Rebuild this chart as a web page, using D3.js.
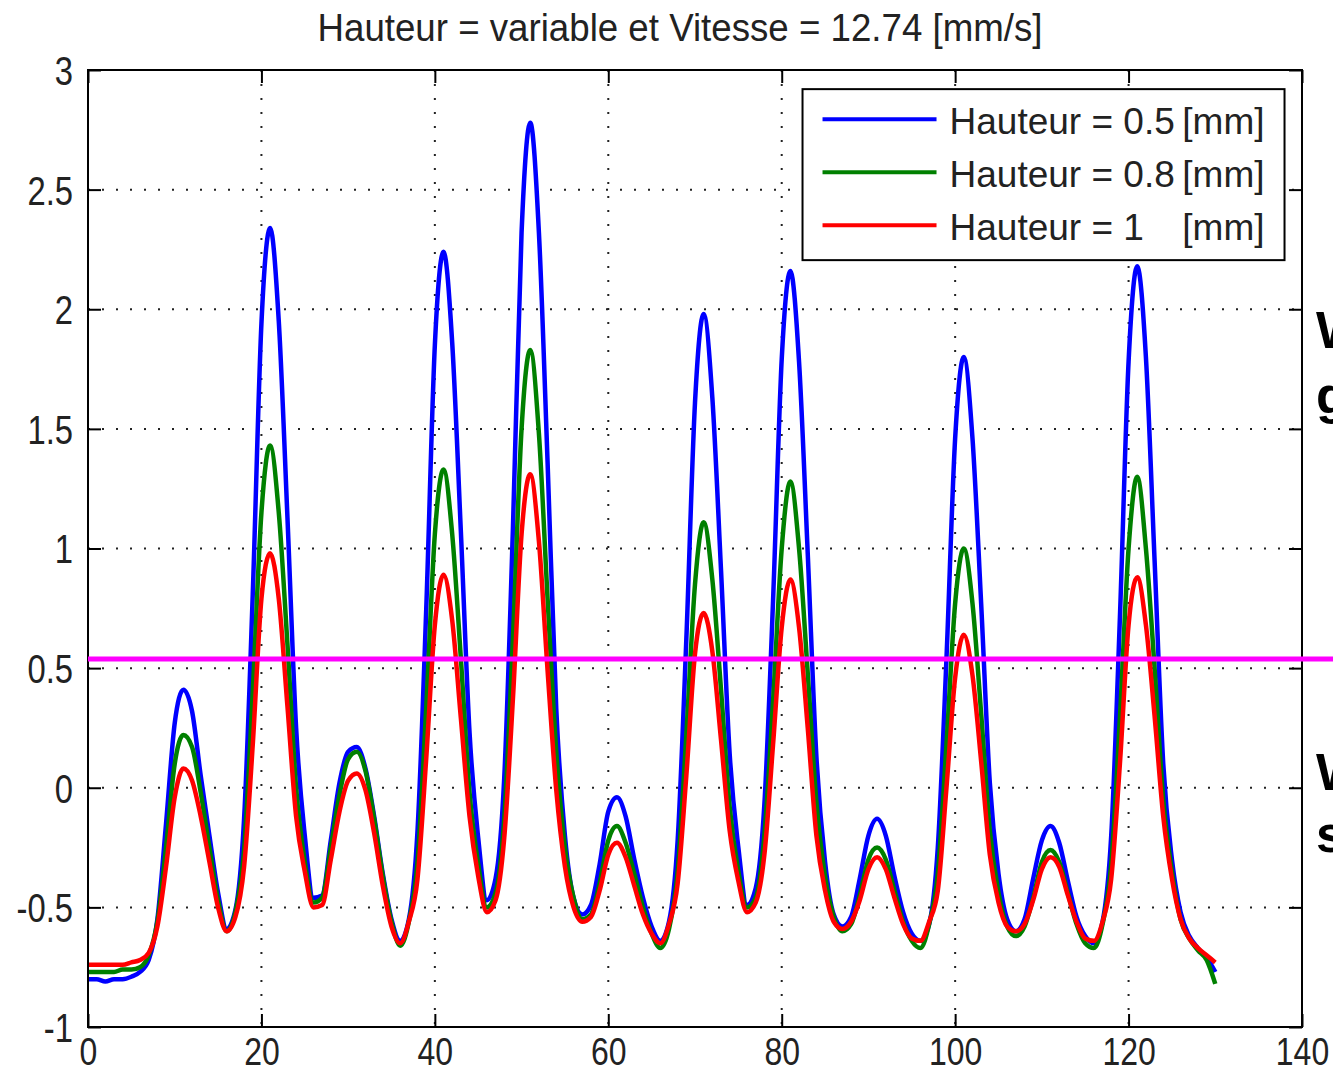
<!DOCTYPE html>
<html>
<head>
<meta charset="utf-8">
<script src="https://cdn.jsdelivr.net/npm/d3@7"></script>
<style>
  body { margin: 0; background: #fff; }
  svg { display: block; font-family: "Liberation Sans", Arial, sans-serif; }
</style>
</head>
<body>
<div id="chart"></div>
<script>
// chart.js - force sensor signal, three heights

const title = 'Hauteur = variable et Vitesse = 12.74 [mm/s]';
const seriesNames = ['Hauteur = 0.5 [mm]', 'Hauteur = 0.8 [mm]', 'Hauteur = 1 [mm]'];
const seriesColors = ['#0000ff', '#008000', '#ff0000'];
const xTicks = [0, 20, 40, 60, 80, 100, 120, 140];
const yTicks = [-1, -0.5, 0, 0.5, 1, 1.5, 2, 2.5, 3];
const threshold = 0.538;
const sideNotes = [['W', 'g'], ['W', 's']];

// sample positions (one per unit along x)
const time = d3.range(0, 131);

const h05 = [
    -0.80, -0.80, -0.81, -0.80, -0.80, -0.79, -0.77, -0.72, -0.55, -0.15,
    0.27, 0.41, 0.32, 0.05, -0.20, -0.44, -0.59, -0.51, -0.13, 0.81,
    1.94, 2.34, 1.95, 1.13, 0.25, -0.20, -0.46, -0.45, -0.22, 0.02,
    0.15, 0.17, 0.08, -0.12, -0.36, -0.55, -0.64, -0.55, -0.18, 0.74,
    1.85, 2.24, 1.86, 1.07, 0.23, -0.21, -0.47, -0.38, 0.04, 1.08,
    2.32, 2.78, 2.32, 1.36, 0.33, -0.20, -0.46, -0.53, -0.49, -0.32,
    -0.10, -0.04, -0.12, -0.30, -0.46, -0.58, -0.64, -0.56, -0.22, 0.62,
    1.61, 1.98, 1.63, 0.91, 0.14, -0.25, -0.49, -0.42, -0.07, 0.78,
    1.79, 2.16, 1.78, 0.98, 0.13, -0.31, -0.53, -0.58, -0.54, -0.38,
    -0.20, -0.13, -0.20, -0.37, -0.52, -0.61, -0.64, -0.57, -0.25, 0.54,
    1.46, 1.80, 1.46, 0.77, 0.02, -0.36, -0.55, -0.60, -0.55, -0.38,
    -0.22, -0.16, -0.23, -0.39, -0.54, -0.62, -0.65, -0.56, -0.20, 0.71,
    1.78, 2.18, 1.80, 0.95, 0.10, -0.30, -0.52, -0.62, -0.67, -0.71,
    -0.77
];

const h08 = [
    -0.77, -0.77, -0.77, -0.77, -0.76, -0.76, -0.75, -0.70, -0.56, -0.25,
    0.10, 0.22, 0.17, -0.02, -0.25, -0.47, -0.60, -0.52, -0.26, 0.40,
    1.15, 1.43, 1.15, 0.60, 0.00, -0.31, -0.48, -0.46, -0.25, -0.03,
    0.12, 0.15, 0.07, -0.13, -0.37, -0.56, -0.66, -0.56, -0.31, 0.33,
    1.06, 1.33, 1.06, 0.54, -0.02, -0.32, -0.50, -0.44, -0.13, 0.62,
    1.50, 1.83, 1.48, 0.79, 0.15, -0.25, -0.46, -0.55, -0.53, -0.40,
    -0.22, -0.16, -0.23, -0.36, -0.50, -0.61, -0.67, -0.59, -0.35, 0.22,
    0.85, 1.11, 0.87, 0.41, -0.08, -0.35, -0.50, -0.46, -0.20, 0.36,
    1.00, 1.28, 1.00, 0.48, -0.06, -0.37, -0.54, -0.60, -0.57, -0.45,
    -0.30, -0.25, -0.30, -0.43, -0.56, -0.64, -0.67, -0.57, -0.36, 0.18,
    0.77, 1.00, 0.77, 0.31, -0.18, -0.44, -0.58, -0.62, -0.58, -0.46,
    -0.31, -0.26, -0.31, -0.44, -0.57, -0.65, -0.67, -0.57, -0.32, 0.29,
    1.00, 1.30, 1.00, 0.50, -0.05, -0.35, -0.55, -0.63, -0.68, -0.72,
    -0.82
];

const h10 = [
    -0.74, -0.74, -0.74, -0.74, -0.74, -0.73, -0.72, -0.69, -0.58, -0.33,
    -0.04, 0.08, 0.03, -0.12, -0.31, -0.50, -0.60, -0.54, -0.33, 0.18,
    0.79, 0.98, 0.79, 0.34, -0.12, -0.35, -0.50, -0.49, -0.30, -0.10,
    0.03, 0.06, -0.01, -0.19, -0.41, -0.58, -0.65, -0.56, -0.38, 0.12,
    0.68, 0.89, 0.70, 0.29, -0.12, -0.37, -0.52, -0.47, -0.21, 0.37,
    1.06, 1.31, 1.03, 0.49, -0.01, -0.33, -0.50, -0.56, -0.54, -0.43,
    -0.28, -0.23, -0.29, -0.41, -0.53, -0.61, -0.65, -0.57, -0.40, 0.05,
    0.56, 0.73, 0.57, 0.20, -0.18, -0.39, -0.52, -0.48, -0.28, 0.18,
    0.67, 0.87, 0.67, 0.25, -0.20, -0.43, -0.56, -0.59, -0.56, -0.47,
    -0.34, -0.29, -0.34, -0.46, -0.57, -0.63, -0.64, -0.56, -0.43, 0.00,
    0.46, 0.64, 0.47, 0.11, -0.28, -0.48, -0.58, -0.60, -0.57, -0.47,
    -0.34, -0.29, -0.33, -0.45, -0.56, -0.63, -0.64, -0.56, -0.38, 0.10,
    0.68, 0.88, 0.68, 0.30, -0.12, -0.38, -0.55, -0.63, -0.67, -0.70,
    -0.73
];

const allSeries = [h05, h08, h10];

const W = 1333, H = 1074;
const margin = { top: 70, right: 31, bottom: 47, left: 88 };
const plotW = W - margin.left - margin.right;
const plotH = H - margin.top - margin.bottom;

function drawChart() {
    const svg = d3.select('#chart').append('svg')
        .attr('width', W)
        .attr('height', H);

    svg.append('rect').attr('width', W).attr('height', H).attr('fill', '#fff');

    const x = d3.scaleLinear().domain([0, 140]).range([0, plotW]);
    const y = d3.scaleLinear().domain([-1, 3]).range([plotH, 0]);

    const g = svg.append('g')
        .attr('transform', `translate(${margin.left},${margin.top})`);

    // dotted grid
    const grid = g.append('g').attr('class', 'grid');
    grid.selectAll('line.gx')
        .data(xTicks.slice(1, -1))
        .join('line')
        .attr('x1', d => x(d)).attr('x2', d => x(d))
        .attr('y1', 0).attr('y2', plotH);
    grid.selectAll('line.gy')
        .data(yTicks.slice(1, -1))
        .join('line')
        .attr('class', 'gy')
        .attr('y1', d => y(d)).attr('y2', d => y(d))
        .attr('x1', 0).attr('x2', plotW);
    grid.selectAll('line')
        .attr('stroke', '#222')
        .attr('stroke-width', 2)
        .attr('stroke-dasharray', '2,12');

    // axes with inward ticks, MATLAB style
    const tickLen = 13;
    const fmt = d => String(d);
    const bottom = g.append('g')
        .attr('transform', `translate(0,${plotH})`)
        .call(d3.axisBottom(x).tickValues(xTicks).tickSize(-tickLen).tickPadding(10).tickFormat(fmt));
    const left = g.append('g')
        .call(d3.axisLeft(y).tickValues(yTicks).tickSize(-tickLen).tickPadding(15).tickFormat(fmt));
    g.append('g')
        .call(d3.axisTop(x).tickValues(xTicks).tickSize(-tickLen).tickFormat(''));
    g.append('g')
        .attr('transform', `translate(${plotW},0)`)
        .call(d3.axisRight(y).tickValues(yTicks).tickSize(-tickLen).tickFormat(''));

    g.selectAll('.domain').remove();
    g.selectAll('.tick line').attr('stroke', '#000').attr('stroke-width', 2);

    bottom.selectAll('text')
        .attr('font-size', 39)
        .attr('font-family', '"Liberation Sans", Arial, sans-serif')
        .attr('fill', '#222')
        .attr('dy', '0.71em')
        .attr('transform', 'scale(0.82,1)');
    left.selectAll('text')
        .attr('font-size', 40)
        .attr('font-family', '"Liberation Sans", Arial, sans-serif')
        .attr('fill', '#222')
        .attr('x', -15 / 0.82)
        .attr('dy', '0.36em')
        .attr('transform', 'scale(0.82,1)');

    // series lines
    const line = d3.line()
        .x((d, i) => x(time[i]))
        .y(d => y(d))
        .curve(d3.curveMonotoneX);

    g.append('g').attr('class', 'lines')
        .selectAll('path')
        .data(allSeries)
        .join('path')
        .attr('d', line)
        .attr('fill', 'none')
        .attr('stroke', (d, i) => seriesColors[i])
        .attr('stroke-width', 4.5)
        .attr('stroke-linejoin', 'round');

    // box
    g.append('rect')
        .attr('width', plotW).attr('height', plotH)
        .attr('fill', 'none')
        .attr('stroke', '#000')
        .attr('stroke-width', 2);

    // legend
    const legend = g.append('g').attr('transform', `translate(${x(82.4)},${y(2.92)})`);
    legend.append('rect')
        .attr('width', 482).attr('height', 171)
        .attr('fill', '#fff')
        .attr('stroke', '#000')
        .attr('stroke-width', 2);
    const item = legend.selectAll('g.item')
        .data(seriesNames)
        .join('g')
        .attr('class', 'item')
        .attr('transform', (d, i) => `translate(0,${30 + i * 53})`);
    item.append('line')
        .attr('x1', 20).attr('x2', 134)
        .attr('stroke', (d, i) => seriesColors[i])
        .attr('stroke-width', 4);
    item.append('text')
        .attr('x', 147).attr('y', 15)
        .attr('font-size', 37)
        .attr('fill', '#222')
        .text(d => d.split('[')[0].trim());
    item.append('text')
        .attr('x', 462).attr('y', 15)
        .attr('text-anchor', 'end')
        .attr('font-size', 37)
        .attr('fill', '#222')
        .text(d => '[' + d.split('[')[1]);

    // threshold line, runs past the right edge of the axes
    svg.append('line')
        .attr('x1', margin.left + x(0))
        .attr('x2', W)
        .attr('y1', margin.top + y(threshold))
        .attr('y2', margin.top + y(threshold))
        .attr('stroke', '#ff00ff')
        .attr('stroke-width', 5);

    // title
    svg.append('text')
        .attr('x', margin.left + plotW / 2 - 15)
        .attr('y', 41)
        .attr('text-anchor', 'middle')
        .attr('font-size', 38)
        .attr('fill', '#222')
        .attr('textLength', 725)
        .attr('lengthAdjust', 'spacingAndGlyphs')
        .text(title);

    // side notes, cut by the right edge as in the source image
    const noteY = [[348, 413], [790, 852]];
    sideNotes.forEach((lines, k) => {
        lines.forEach((t, j) => {
            svg.append('text')
                .attr('x', 1316)
                .attr('y', noteY[k][j])
                .attr('font-size', 52)
                .attr('font-weight', 'bold')
                .attr('fill', '#000')
                .text(t);
        });
    });
}

drawChart();
</script>
</body>
</html>
